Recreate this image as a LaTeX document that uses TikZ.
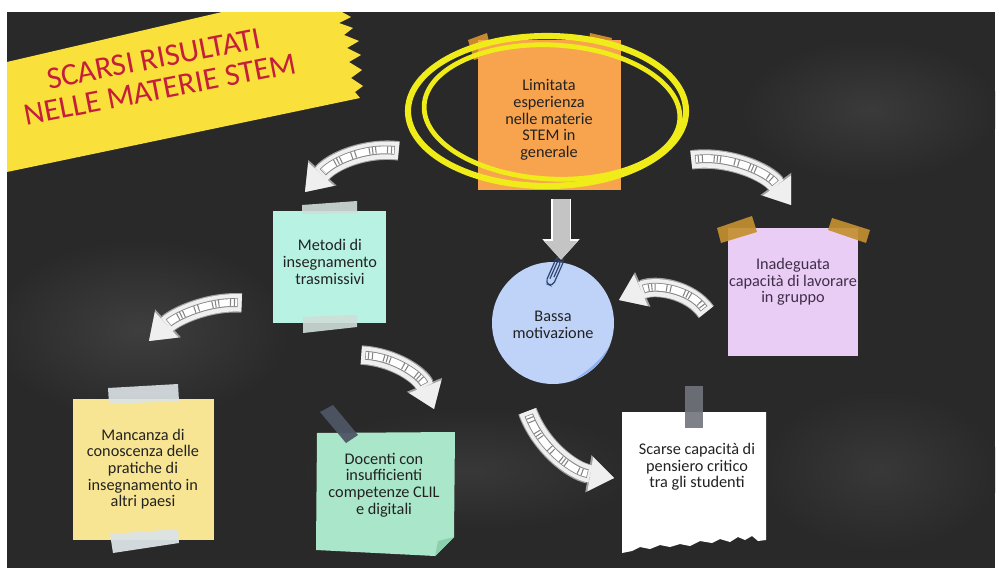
\documentclass[tikz,border=0pt]{standalone}
\usepackage{fontspec}
\setmainfont{Carlito}
\usetikzlibrary{arrows.meta,calc}
\definecolor{board}{HTML}{292929}
\definecolor{banner}{HTML}{FAE03A}
\definecolor{titlered}{HTML}{C41E3A}
\definecolor{hilite}{HTML}{F0EC1A}
\definecolor{orangenote}{HTML}{F8A44E}
\definecolor{orangetape}{HTML}{C98A2E}
\definecolor{mint}{HTML}{B8F2E2}
\definecolor{minttape}{HTML}{CFDDD8}
\definecolor{lilac}{HTML}{EACDF4}
\definecolor{paleyellow}{HTML}{F8E593}
\definecolor{greytape}{HTML}{DCE3E6}
\definecolor{seagreen}{HTML}{AAE6C9}
\definecolor{seafold}{HTML}{8CD0AE}
\definecolor{bluenote}{HTML}{BFD3F8}
\definecolor{bluecurl}{HTML}{8DB0F0}
\definecolor{clipc}{HTML}{2D4571}
\definecolor{amber}{HTML}{C48F30}
\definecolor{slate}{HTML}{4E5664}
\definecolor{steeltape}{HTML}{70757C}
\definecolor{inkc}{HTML}{222222}
\definecolor{purpleink}{HTML}{3F2E4A}
\definecolor{paper}{HTML}{EFEFEF}
\definecolor{paperedge}{HTML}{A0A0A0}
\definecolor{hatchc}{HTML}{858585}
\definecolor{blockgray}{HTML}{C4C4C4}
\tikzset{
  x=0.75pt, y=-0.75pt,
  notebox/.style={draw=none, inner sep=0pt, rectangle},
  notetext/.style={align=center, text=inkc, inner sep=0pt,
    font=\fontsize{12.2}{12.5}\selectfont},
  skarrow/.style={
    draw=paper, line width=13pt, shorten <=1pt,
    -{Triangle[length=18pt,width=26pt,line width=0pt]},
    preaction={draw=paperedge, line width=14.6pt,
      -{Triangle[length=19.5pt,width=28.5pt,line width=0pt]}},
    postaction={draw=hatchc, line width=6.6pt, -, shorten >=20pt, shorten <=4pt},
    postaction={draw=white, line width=5.2pt, -, shorten >=20.5pt, shorten <=4.5pt},
    postaction={draw=hatchc, line width=5.2pt, -, shorten >=21pt, shorten <=6pt,
      dash pattern=on 0.8pt off 2.2pt on 0.8pt off 8pt on 0.8pt off 1.6pt on 0.8pt off 1.6pt on 0.8pt off 10pt}
  },
  blockarr/.style={
    draw=blockgray, line width=12.75pt,
    -{Triangle[length=14pt,width=25.5pt,line width=0pt]},
    preaction={draw=white, line width=14.5pt,
      -{Triangle[length=15.5pt,width=28pt,line width=0pt]}}
  },
}
\begin{document}
\begin{tikzpicture}
\useasboundingbox (0,0) rectangle (997,571);
\fill[white] (0,0) rectangle (997,571);
% chalkboard
\fill[board] (7,12) rectangle (995,568);
\begin{scope}
\clip (7,12) rectangle (995,568);
\shade[inner color=board!90!white, outer color=board] (140,330) ellipse (150 and 90);
\shade[inner color=board!92!white, outer color=board] (870,110) ellipse (130 and 70);
\shade[inner color=board!93!white, outer color=board] (470,470) ellipse (170 and 60);
\shade[inner color=board!93!white, outer color=board] (880,470) ellipse (120 and 80);
\end{scope}

% title banner
\fill[banner] (7,62) -- (222,12) -- (342,12) -- (351,17) -- (339,23) -- (353,28) -- (344,35)
  -- (359,41) -- (347,48) -- (361,55) -- (349,62) -- (362,70) -- (351,78) -- (363,86)
  -- (355,92) -- (360,98) -- (7,172) -- cycle;
\node[text=titlered, rotate=11, align=center, inner sep=0pt,
  font=\fontsize{23.5}{23.5}\selectfont] (title) at (157,74)
  {SCARSI RISULTATI\\NELLE MATERIE STEM};

% orange note (Limitata esperienza)
\fill[orangetape] (468,40) -- (487,33) -- (492,55) -- (474,60) -- cycle;
\fill[orangetape] (590,33) -- (612,38) -- (608,54) -- (588,50) -- cycle;
\node[notebox, fill=orangenote, minimum width=107.25pt, minimum height=112.5pt] (lim) at (549.5,115) {};
\node[notetext] (limtxt) at (549,120) {Limitata\\esperienza\\nelle materie\\STEM in\\generale};
\draw[hilite, line width=4.6pt] (547,111) ellipse (139 and 75);
\draw[hilite, line width=3.6pt, rotate around={-3:(552,112)}] (552,112) ellipse (128 and 67);

% Metodi note
\node[notebox, fill=mint, minimum width=84.75pt, minimum height=84pt] (met) at (329.5,267) {};
\fill[minttape, opacity=0.9] (302,205) -- (357,201) -- (357,213) -- (302,214) -- cycle;
\fill[minttape, opacity=0.9] (303,317) -- (357,315) -- (357,327) -- (303,333) -- cycle;
\node[notetext] (mettxt) at (330,262) {Metodi di\\insegnamento\\trasmissivi};

% Inadeguata note
\node[notebox, fill=lilac, minimum width=97.5pt, minimum height=96pt] (inad) at (793,292) {};
\fill[amber, opacity=0.92] (717,228) -- (752,216) -- (757,232) -- (721,243) -- cycle;
\fill[amber, opacity=0.92] (832,218) -- (870,230) -- (866,243) -- (828,230) -- cycle;
\node[notetext, text=purpleink] (inadtxt) at (793,282) {Inadeguata\\capacità di lavorare\\in gruppo};

% Mancanza note
\node[notebox, fill=paleyellow, minimum width=105.75pt, minimum height=105.75pt] (manc) at (143.5,469.5) {};
\fill[greytape, opacity=0.9] (108,388) -- (178,384) -- (179,401) -- (109,404) -- cycle;
\fill[greytape, opacity=0.95] (110,534) -- (178,529) -- (179,543) -- (113,553) -- cycle;
\node[notetext] (manctxt) at (143,469) {Mancanza di\\conoscenza delle\\pratiche di\\insegnamento in\\altri paesi};

% Docenti note
\fill[seagreen] (317,433) -- (455,432) -- (454,537) -- (435,556) -- (316,550) -- cycle;
\fill[seafold] (435,556) -- (454,537) -- (438,541) -- cycle;
\fill[slate, opacity=0.95] (320,412) -- (333,405) -- (358,435) -- (346,443) -- cycle;
\node[notetext] (doctxt) at (384,485) {Docenti con\\insufficienti\\competenze CLIL\\e digitali};

% Scarse note (torn paper)
\fill[white] (622,412) -- (766,412) -- (766,540) -- (758,541) -- (752,536) -- (745,540)
  -- (738,537) -- (730,542) -- (720,539) -- (712,543) -- (700,541) -- (690,546)
  -- (680,544) -- (670,547) -- (660,545) -- (650,549) -- (640,547) -- (632,551)
  -- (622,553) -- cycle;
\fill[steeltape, opacity=0.9] (685,386) rectangle (703,428);
\node[notetext] (scartxt) at (697,467) {Scarse capacità di\\pensiero critico\\tra gli studenti};

% Bassa motivazione (round note)
\node[circle, fill=bluenote, minimum size=91.5pt, inner sep=0pt] (bassa) at (553,323) {};
\fill[bluecurl] (572,381) .. controls (588,371) and (602,359) .. (610,345)
  arc[start angle=22, end angle=71, radius=61] -- cycle;
\begin{scope}[rotate around={66:(555,271)}]
\draw[clipc, line width=0.9pt, rounded corners=3.5pt] (540,267) rectangle (570,275);
\draw[clipc, line width=0.9pt, rounded corners=2pt] (546,269.5) -- (566,269.5) -- (566,272.5) -- (549,272.5);
\end{scope}
\node[notetext] (bastxt) at (553,325) {Bassa\\motivazione};

% block arrow Limitata -> Bassa
\draw[blockarr] ($(lim.south)+(11.5,9)$) -- ($(bassa.north)+(8,-2)$);

% sketch arrows
\coordinate (a1s) at (400,151); \coordinate (a1e) at (305,192);
\coordinate (a2s) at (243,303); \coordinate (a2e) at (149,341);
\coordinate (a3s) at (360,355); \coordinate (a3e) at (434,409);
\coordinate (a4s) at (690,160); \coordinate (a4e) at (791,205);
\coordinate (a5s) at (707,313); \coordinate (a5e) at (619,300);
\coordinate (a6s) at (527,410); \coordinate (a6e) at (614,478);
\draw[skarrow] (a1s) .. controls (365,147) and (333,161) .. (a1e);
\draw[skarrow] (a2s) .. controls (207,301) and (175,317) .. (a2e);
\draw[skarrow] (a3s) .. controls (395,357) and (421,376) .. (a3e);
\draw[skarrow] (a4s) .. controls (730,155) and (768,173) .. (a4e);
\draw[skarrow] (a5s) .. controls (690,289) and (655,284) .. (a5e);
\draw[skarrow] (a6s) .. controls (540,446) and (572,471) .. (a6e);
\end{tikzpicture}
\end{document}
